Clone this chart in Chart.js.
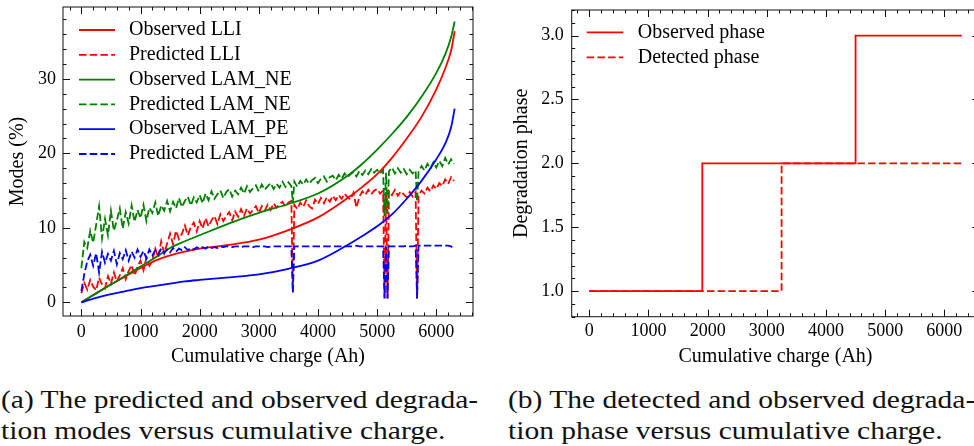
<!DOCTYPE html>
<html><head><meta charset="utf-8">
<script src="https://cdn.jsdelivr.net/npm/chart.js@4.4.1/dist/chart.umd.min.js"></script>
<style>
html,body{margin:0;padding:0;background:#fff;width:974px;height:446px;overflow:hidden;position:relative}
canvas{position:absolute;top:0}
#c1{left:0}
#c2{left:490px}
.cap{position:absolute;font-family:'Liberation Serif',serif;font-size:26px;line-height:31px;color:#111;white-space:nowrap;transform-origin:0 0;transform:scaleX(1.135)}
</style></head>
<body>
<canvas id="c1" width="490" height="380"></canvas>
<canvas id="c2" width="500" height="380"></canvas>
<div class="cap" style="left:1px;top:384px">(a) The predicted and observed degrada-<br>tion modes versus cumulative charge.</div>
<div class="cap" style="left:508px;top:384px">(b) The detected and observed degrada-<br>tion phase versus cumulative charge.</div>
<script>
const FONT = "'Liberation Serif', 'Times New Roman', serif";

// ---------- (a) degradation modes ----------
const xTicks = [0, 1000, 2000, 3000, 4000, 5000, 6000];
const modeTicks = [0, 10, 20, 30];

const obsX   = [0,250,500,750,1000,1250,1500,1750,2000,2500,3000,3500,4000,4500,4750,5000,5250,5500,5750,6000,6150,6250,6310];
const obsLLI = [0,1.2,2.4,3.5,4.6,5.6,6.3,6.8,7.2,7.7,8.4,9.7,11.4,14.0,15.5,17.2,19.4,22.0,24.9,28.6,31.4,33.8,36.4];
const obsNE  = [0,1.2,2.4,3.6,4.8,6.0,7.3,8.2,9.0,10.6,12.0,13.2,14.6,17.0,18.6,20.5,22.6,24.9,27.6,30.8,33.3,35.6,37.7];
const obsPE  = [0,0.6,1.1,1.5,1.9,2.2,2.5,2.8,3.0,3.35,3.75,4.5,5.6,7.7,8.9,10.2,11.8,13.9,16.3,19.2,21.3,23.5,26.0];

const predX = [
  0,50,100,150,200,250,300,350,400,450,
  500,550,600,650,700,750,800,850,900,950,
  1000,1050,1100,1150,1200,1250,1300,1350,1400,1450,
  1500,1550,1600,1650,1700,1750,1800,1850,1900,1950,
  2000,2050,2100,2150,2200,2250,2300,2350,2400,2450,
  2500,2550,2600,2650,2700,2750,2800,2850,2900,2950,
  3000,3050,3100,3150,3200,3250,3300,3350,3400,3450,
  3500,3550,3575,
  3600,3650,3700,3750,3800,3850,3900,3950,4000,4050,
  4100,4150,4200,4250,4300,4350,4400,4450,4500,4550,
  4600,4650,4700,4750,4800,4850,4900,4950,5000,5050,
  5100,5125,5150,5175,
  5200,5250,5300,5350,5400,5450,5500,5550,5600,5650,
  5675,
  5700,5750,5800,5850,5900,5950,6000,6050,6100,6150,6200,6250,6300
];
const predLLI = [
  1.2,2.6,1.7,3.0,2.1,1.6,3.3,2.4,1.9,3.5,
  2.5,4.0,2.8,3.6,4.6,3.1,4.2,5.0,3.6,4.8,
  5.6,4.3,6.0,4.9,5.6,7.2,6.0,8.2,6.6,7.9,
  9.2,7.8,9.6,8.5,9.2,10.3,9.0,10.1,10.7,9.5,
  10.9,9.9,11.3,10.2,11.0,11.6,10.5,11.8,10.9,11.6,
  12.1,11.0,12.2,11.5,12.5,11.6,12.6,11.9,12.4,12.9,
  12.0,12.9,12.3,13.1,12.4,13.3,12.7,13.2,13.5,12.8,
  13.4,13.6,1.4,
  13.1,12.5,13.4,12.8,13.7,12.9,12.6,13.8,13.2,14.0,
  13.3,14.1,13.5,14.3,13.7,14.4,13.9,14.6,14.1,13.8,
  14.7,12.7,14.2,14.9,14.4,15.1,14.5,15.0,15.2,14.6,
  15.0,0.5,14.8,0.5,
  14.9,14.4,15.1,14.3,14.9,14.5,14.1,14.8,14.2,14.8,
  0.5,
  14.4,15.0,14.6,15.4,14.9,15.7,15.2,16.0,15.6,16.5,15.9,16.8,16.3
];
const predNE = [
  4.6,8.1,7.3,9.6,8.0,10.4,12.9,8.6,11.2,9.0,
  12.3,9.6,11.0,12.6,9.9,12.1,10.6,13.0,10.8,12.4,
  11.3,13.1,10.9,12.7,12.0,13.4,11.6,13.0,12.3,13.6,
  12.2,13.5,12.6,14.0,12.8,13.6,14.2,13.0,14.1,13.4,
  14.4,13.3,14.6,13.7,14.9,13.9,14.5,15.0,14.0,14.8,
  15.2,14.2,15.0,14.5,15.4,14.6,15.6,14.8,15.3,15.7,
  14.9,15.8,15.1,15.6,16.0,15.2,15.9,15.4,16.2,15.5,
  16.1,15.6,13.3,
  16.2,15.5,16.3,15.8,16.5,15.9,16.4,16.7,16.0,16.6,
  16.9,16.2,16.8,17.0,16.4,17.1,16.6,17.3,16.8,17.2,
  17.5,16.9,17.6,17.1,17.7,17.2,17.9,17.4,17.8,17.3,
  17.7,11.6,17.4,11.9,
  17.6,18.1,17.3,18.0,17.4,17.9,17.2,17.8,17.3,17.7,
  13.5,
  17.5,18.3,17.7,18.6,17.9,18.8,18.1,19.0,18.3,19.4,18.5,19.2,18.6
];
const predPE = [
  1.5,3.8,5.5,6.4,4.9,6.6,4.0,6.8,5.3,6.5,
  5.6,6.9,5.1,6.6,5.8,7.0,5.6,6.8,6.0,7.1,
  6.1,6.9,5.9,7.1,6.3,7.0,6.4,7.2,6.6,7.1,
  6.7,7.3,6.8,7.2,7.0,7.4,7.0,7.3,7.1,7.4,
  7.2,7.4,7.2,7.5,7.3,7.4,7.3,7.5,7.4,7.5,
  7.5,7.4,7.5,7.5,7.4,7.5,7.5,7.5,7.4,7.5,
  7.5,7.5,7.5,7.4,7.5,7.5,7.5,7.5,7.5,7.5,
  7.5,7.5,1.3,
  7.5,7.5,7.5,7.5,7.5,7.5,7.5,7.5,7.5,7.5,
  7.5,7.5,7.5,7.5,7.5,7.5,7.5,7.5,7.5,7.5,
  7.5,7.6,7.5,7.5,7.5,7.5,7.5,7.5,7.5,7.5,
  7.5,0.5,7.5,0.5,
  7.5,7.5,7.5,7.5,7.5,7.5,7.6,7.5,7.5,7.6,
  0.5,
  7.6,7.6,7.6,7.6,7.6,7.6,7.6,7.6,7.6,7.6,7.6,7.5,7.2
];

// ---------- (b) degradation phase ----------
const phaseTicks = [1.0, 1.5, 2.0, 2.5, 3.0];
const observedPhaseX = [0, 1910, 4500, 6294];
const observedPhase  = [1, 2, 3, 3];
const detectedPhaseX = [0, 3250, 6294];
const detectedPhase  = [1, 2, 2];

const RED = '#ff0000', GREEN = '#008000', BLUE = '#0000ff';
const LW = 1.8;
const DASH = [7.5, 3.2];

function pts(xs, ys) { return xs.map((x, i) => ({x: x, y: ys[i]})); }

const framePlugin = {
  id: 'frame',
  afterDatasetsDraw(chart, args, o) {
    const ctx = chart.ctx, a = chart.chartArea;
    const xs = chart.scales.x, ys = chart.scales.y;
    const L = a.left, R = a.right, T = a.top, B = a.bottom;
    ctx.save();
    ctx.strokeStyle = '#111'; ctx.lineWidth = 1; ctx.setLineDash([]);
    ctx.strokeRect(L, T, R - L, B - T);
    ctx.beginPath();
    const mk = (scale, major, minor, horiz) => {
      const k0 = Math.ceil(scale.min / minor - 1e-9), k1 = Math.floor(scale.max / minor + 1e-9);
      for (let k = k0; k <= k1; k++) {
        const v = k * minor;
        const isMaj = Math.abs(v / major - Math.round(v / major)) < 1e-6;
        const len = isMaj ? o.major : o.minor;
        const p = Math.round(scale.getPixelForValue(v)) + 0.5;
        if (horiz) { ctx.moveTo(p, B); ctx.lineTo(p, B - len); ctx.moveTo(p, T); ctx.lineTo(p, T + len); }
        else { ctx.moveTo(L, p); ctx.lineTo(L + len, p); ctx.moveTo(R, p); ctx.lineTo(R - len, p); }
      }
    };
    mk(xs, o.xMajor, o.xMinor, true);
    mk(ys, o.yMajor, o.yMinor, false);
    ctx.stroke();
    ctx.restore();
  }
};

const legendPlugin = {
  id: 'inlegend',
  afterDraw(chart, args, o) {
    const ctx = chart.ctx;
    ctx.save();
    chart.data.datasets.forEach((ds, i) => {
      const y = o.y0 + i * o.dy;
      ctx.strokeStyle = ds.borderColor; ctx.lineWidth = ds.borderWidth;
      ctx.setLineDash(ds.borderDash || []);
      ctx.beginPath(); ctx.moveTo(o.x0, y); ctx.lineTo(o.x1, y); ctx.stroke();
      ctx.setLineDash([]);
      ctx.fillStyle = '#000'; ctx.font = '20px ' + FONT;
      ctx.textBaseline = 'middle'; ctx.textAlign = 'left';
      ctx.fillText(ds.label, o.tx, y);
    });
    ctx.restore();
  }
};

function axis(min, max, ticks, fmt, title, fitKey, fitVal, pad, titlePad) {
  return {
    type: 'linear', min: min, max: max,
    grid: {display: false, drawTicks: false}, border: {display: false},
    afterBuildTicks: s => { s.ticks = ticks.map(v => ({value: v})); },
    afterFit: s => {
      s[fitKey] = fitVal;
      s.paddingTop = 0; s.paddingBottom = 0; s.paddingLeft = 0; s.paddingRight = 0;
    },
    ticks: {font: {family: FONT, size: 18}, color: '#000', padding: pad, autoSkip: false, maxRotation: 0, callback: fmt},
    title: {display: true, text: title, font: {family: FONT, size: 20}, color: '#000', padding: titlePad}
  };
}

const common = {
  responsive: false, animation: false, devicePixelRatio: 1,
  elements: {point: {radius: 0}, line: {tension: 0, fill: false}}
};

new Chart(document.getElementById('c1'), {
  type: 'line',
  data: {datasets: [
    {label: 'Observed LLI', data: pts(obsX, obsLLI), borderColor: RED, borderWidth: LW, cubicInterpolationMode: 'monotone', order: 5},
    {label: 'Predicted LLI', data: pts(predX, predLLI), borderColor: RED, borderWidth: LW, borderDash: DASH, order: 4},
    {label: 'Observed LAM_NE', data: pts(obsX, obsNE), borderColor: GREEN, borderWidth: LW, cubicInterpolationMode: 'monotone', order: 3},
    {label: 'Predicted LAM_NE', data: pts(predX, predNE), borderColor: GREEN, borderWidth: LW, borderDash: DASH, order: 2},
    {label: 'Observed LAM_PE', data: pts(obsX, obsPE), borderColor: BLUE, borderWidth: LW, cubicInterpolationMode: 'monotone', order: 1},
    {label: 'Predicted LAM_PE', data: pts(predX, predPE), borderColor: BLUE, borderWidth: LW, borderDash: DASH, order: 0}
  ]},
  options: Object.assign({}, common, {
    layout: {padding: {left: 0, top: 7, right: 17, bottom: 0}},
    plugins: {
      legend: {display: false}, tooltip: {enabled: false},
      frame: {xMajor: 1000, xMinor: 200, yMajor: 10, yMinor: 2, major: 7, minor: 3.5},
      inlegend: {x0: 79, x1: 115, tx: 129, y0: 30, dy: 24.8}
    },
    scales: {
      x: axis(-310, 6620, xTicks, v => String(v), 'Cumulative charge (Ah)', 'height', 64, 5, {top: 0, bottom: 11.5}),
      y: axis(-1.84, 39.65, modeTicks, v => String(v), 'Modes (%)', 'width', 63, 7, {top: 6, bottom: 0})
    }
  }),
  plugins: [framePlugin, legendPlugin]
});

new Chart(document.getElementById('c2'), {
  type: 'line',
  data: {datasets: [
    {label: 'Observed phase', data: pts(observedPhaseX, observedPhase), borderColor: RED, borderWidth: LW, stepped: 'before', order: 1},
    {label: 'Detected phase', data: pts(detectedPhaseX, detectedPhase), borderColor: RED, borderWidth: LW, borderDash: DASH, stepped: 'before', order: 0}
  ]},
  options: Object.assign({}, common, {
    layout: {padding: {left: 0, top: 10, right: 10.7, bottom: 0}},
    plugins: {
      legend: {display: false}, tooltip: {enabled: false},
      frame: {xMajor: 1000, xMinor: 200, yMajor: 0.5, yMinor: 0.1, major: 7, minor: 3.5},
      inlegend: {x0: 96.7, x1: 133.3, tx: 147.7, y0: 32.3, dy: 25}
    },
    scales: {
      x: axis(-297, 6591, xTicks, v => String(v), 'Cumulative charge (Ah)', 'height', 63.3, 4, {top: 0, bottom: 11.3}),
      y: axis(0.8, 3.2, phaseTicks, v => v.toFixed(1), 'Degradation phase', 'width', 81.7, 8, {top: 19.7, bottom: 0})
    }
  }),
  plugins: [framePlugin, legendPlugin]
});
</script>
</body></html>
